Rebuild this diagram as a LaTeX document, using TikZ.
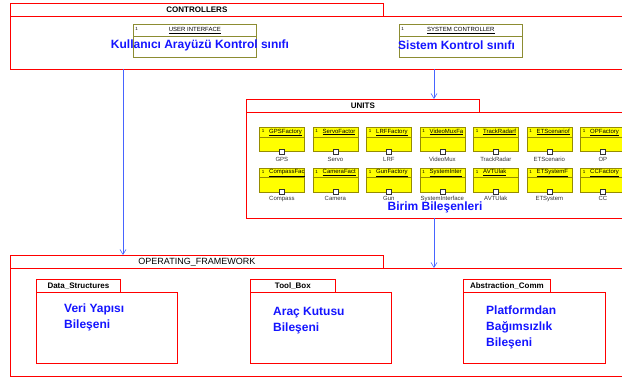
\documentclass[tikz,border=0pt]{standalone}
\usepackage{fontspec}
\setmainfont{Liberation Sans}
\usetikzlibrary{arrows.meta}
\definecolor{umlred}{RGB}{255,0,0}
\definecolor{umlblue}{RGB}{20,20,255}
\definecolor{arrblue}{RGB}{70,100,255}
\definecolor{olivebd}{RGB}{140,140,50}
\definecolor{compbd}{RGB}{150,140,0}
\definecolor{compfill}{RGB}{255,255,0}
\definecolor{lblgray}{RGB}{50,50,50}
\begin{document}
\begin{tikzpicture}[x=1pt,y=-1pt,
  redline/.style={draw=umlred, line width=0.8pt},
  tabbox/.style={redline, rectangle, anchor=north west, inner sep=0pt, minimum height=13pt},
  pkgbody/.style={redline, rectangle, anchor=north west, inner sep=0pt, minimum width=141pt, minimum height=71pt},
  tabtxt/.style={font=\fontsize{8}{9}\selectfont\bfseries},
  bigtxt/.style={text=umlblue, font=\fontsize{12}{14}\selectfont\bfseries, inner sep=0pt},
  uibox/.style={draw=olivebd, line width=0.8pt, rectangle, anchor=north west, inner sep=0pt, minimum width=123pt, minimum height=33pt},
  comp/.style={draw=compbd, fill=compfill, line width=0.7pt, rectangle, anchor=north west, inner sep=0pt, minimum width=45pt, minimum height=24pt},
  onetxt/.style={font=\fontsize{4.5}{5}\selectfont, inner sep=0pt},
  hdr/.style={font=\fontsize{6}{7}\selectfont, inner sep=0pt},
  port/.style={draw=lblgray, fill=white, line width=0.5pt, rectangle, inner sep=0pt, minimum size=5pt},
  lbl/.style={font=\fontsize{6}{7}\selectfont, text=lblgray, inner sep=0pt},
  arr/.style={draw=arrblue, line width=0.6pt, -{Straight Barb[length=5pt,width=6pt]}}
]
\useasboundingbox (0,0) rectangle (622,381);

% ---------- CONTROLLERS ----------
\node[tabbox, tabtxt, minimum width=373pt] (ctab) at (10,3) {CONTROLLERS};
\draw[redline] (622,16) -- (10,16) -- (10,69) -- (622,69);
\coordinate (ca) at (123,69);
\coordinate (cb) at (434,69);

\node[uibox] (ui) at (133,24.3) {};
\draw[draw=olivebd, line width=0.8pt] ([yshift=-11.7pt]ui.north west) -- ([yshift=-11.7pt]ui.north east);
\node[onetxt] (ui1) at ([xshift=3.7pt,yshift=-4.7pt]ui.north west) {1};
\node[hdr, anchor=base] (uih) at ([yshift=-7pt]ui.north) {\underline{USER INTERFACE}};
\node[bigtxt] (uit) at (200,45) {Kullanıcı Arayüzü Kontrol sınıfı};

\node[uibox] (sc) at (399,24.3) {};
\draw[draw=olivebd, line width=0.8pt] ([yshift=-11.7pt]sc.north west) -- ([yshift=-11.7pt]sc.north east);
\node[onetxt] (sc1) at ([xshift=3.7pt,yshift=-4.7pt]sc.north west) {1};
\node[hdr, anchor=base] (sch) at ([yshift=-7pt]sc.north) {\underline{SYSTEM CONTROLLER}};
\node[bigtxt] (sct) at (456.5,45) {Sistem Kontrol sınıfı};

% ---------- UNITS ----------
\node[tabbox, tabtxt, minimum width=233pt] (utab) at (246,99) {UNITS};
\draw[redline] (622,112) -- (246,112) -- (246,218) -- (622,218);
\coordinate (ub) at (434,218);

\foreach \cx/\hd/\lb [count=\i] in {259/GPSFactory/GPS, 312.5/ServoFactor/Servo, 366/LRFFactory/LRF, 419.5/VideoMuxFa/VideoMux, 473/TrackRadarf/TrackRadar, 526.5/ETScenariof/ETScenario, 580/OPFactory/OP} {
  \node[comp] (ua\i) at (\cx,127) {};
  \draw[draw=compbd, line width=0.7pt] ([yshift=-10pt]ua\i.north west) -- ([yshift=-10pt]ua\i.north east);
  \node[onetxt] (uao\i) at ([xshift=4.2pt,yshift=-4.3pt]ua\i.north west) {1};
  \node[hdr, anchor=base west] (uah\i) at ([xshift=10pt,yshift=-6pt]ua\i.north west) {\underline{\hd}};
  \node[port] (pa\i) at (ua\i.south) {};
  \node[lbl] (la\i) at ([yshift=-7.5pt]ua\i.south) {\lb};
}
\foreach \cx/\hd/\lb [count=\i] in {259/CompassFac/Compass, 312.5/CameraFact/Camera, 366/GunFactory/Gun, 419.5/SystemInter/SystemInterface, 473/AVTUlak/AVTUlak, 526.5/ETSystemF/ETSystem, 580/CCFactory/CC} {
  \node[comp] (ub\i) at (\cx,167.5) {};
  \draw[draw=compbd, line width=0.7pt] ([yshift=-10pt]ub\i.north west) -- ([yshift=-10pt]ub\i.north east);
  \node[onetxt] (ubo\i) at ([xshift=4.2pt,yshift=-4.3pt]ub\i.north west) {1};
  \node[hdr, anchor=base west] (ubh\i) at ([xshift=10pt,yshift=-6pt]ub\i.north west) {\underline{\hd}};
  \node[port] (pb\i) at (ub\i.south) {};
  \node[lbl] (lb\i) at ([yshift=-6.5pt]ub\i.south) {\lb};
}
\node[bigtxt] (ut) at (435,207.5) {Birim Bileşenleri};

% ---------- OPERATING_FRAMEWORK ----------
\node[tabbox, minimum width=373pt, font=\fontsize{9}{10}\selectfont] (oftab) at (10,255) {OPERATING\_FRAMEWORK};
\draw[redline] (622,268) -- (10,268) -- (10,376) -- (622,376);
\coordinate (ob) at (434,268);

\node[tabbox, tabtxt, minimum width=84pt] (dstab) at (36,279) {Data\_Structures};
\node[pkgbody] (dsbody) at (36,292) {};
\node[bigtxt, anchor=base west] (ds1) at (64,312.5) {Veri Yapısı};
\node[bigtxt, anchor=base west] (ds2) at (64,328) {Bileşeni};

\node[tabbox, tabtxt, minimum width=85pt] (tbtab) at (250,279) {Tool\_Box};
\node[pkgbody] (tbbody) at (250,292) {};
\node[bigtxt, anchor=base west] (tb1) at (273,315.5) {Araç Kutusu};
\node[bigtxt, anchor=base west] (tb2) at (273,331.5) {Bileşeni};

\node[tabbox, tabtxt, minimum width=87pt] (actab) at (463,279) {Abstraction\_Comm};
\node[pkgbody, minimum width=142pt] (acbody) at (463,292) {};
\node[bigtxt, anchor=base west] (ac1) at (486,314.5) {Platformdan};
\node[bigtxt, anchor=base west] (ac2) at (486,330.5) {Bağımsızlık};
\node[bigtxt, anchor=base west] (ac3) at (486,346.5) {Bileşeni};

% ---------- connectors ----------
\draw[arr] (ca) -- (oftab.north -| ca);
\draw[arr] (cb) -- (utab.north -| cb);
\draw[arr] (ub) -- (ob);
\end{tikzpicture}
\end{document}
